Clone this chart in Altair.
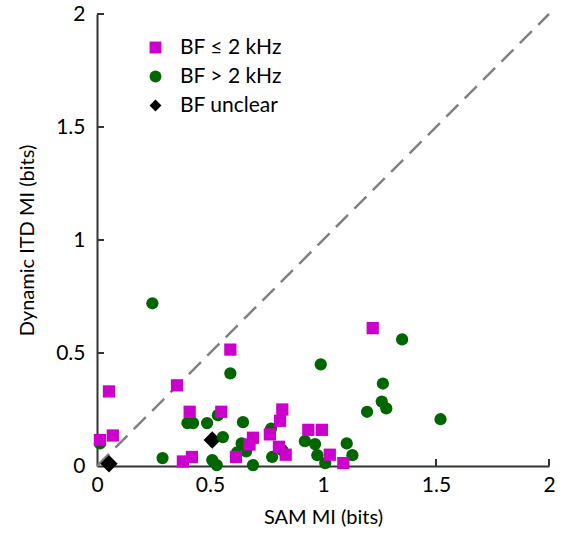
import altair as alt
import pandas as pd

groups = ["BF ≤ 2 kHz", "BF > 2 kHz", "BF unclear"]
colors = ["#cc00cc", "#006600", "#000000"]
shapes = ["square", "circle", "diamond"]
sizes = [150, 150, 300]

low_x = [0.013, 0.053, 0.07, 0.354, 0.41, 0.38, 0.42, 0.55, 0.59, 0.615, 0.69, 0.675,
         0.765, 0.81, 0.82, 0.805, 0.835, 0.935, 0.995, 1.03, 1.09, 1.22]
low_y = [0.115, 0.33, 0.135, 0.357, 0.24, 0.02, 0.04, 0.24, 0.515, 0.04, 0.125, 0.095,
         0.14, 0.20, 0.25, 0.085, 0.05, 0.16, 0.16, 0.05, 0.013, 0.61]

high_x = [0.013, 0.245, 0.29, 0.40, 0.425, 0.487, 0.535, 0.59, 0.557, 0.646, 0.64, 0.62,
          0.66, 0.51, 0.53, 0.69, 0.775, 0.77, 0.99, 1.35, 1.265, 1.26, 1.28, 1.195, 1.52,
          0.92, 0.965, 0.975, 1.01, 1.105, 1.13, 0.82]
high_y = [0.10, 0.72, 0.035, 0.19, 0.19, 0.19, 0.225, 0.41, 0.128, 0.194, 0.10, 0.06,
          0.065, 0.026, 0.004, 0.004, 0.04, 0.165, 0.45, 0.56, 0.365, 0.285, 0.255, 0.24,
          0.207, 0.11, 0.097, 0.048, 0.013, 0.10, 0.048, 0.07]

unc_x = [0.053, 0.51]
unc_y = [0.01, 0.115]

tick_vals = [0.5, 1.0, 1.5, 2.0]
axis_labels = [0, 0.5, 1, 1.5, 2]

rows = []
for x, y in zip(unc_x, unc_y):
    rows.append({"x": x, "y": y, "group": groups[2], "sz": sizes[2]})
for x, y in zip(high_x, high_y):
    rows.append({"x": x, "y": y, "group": groups[1], "sz": sizes[1]})
for x, y in zip(low_x, low_y):
    rows.append({"x": x, "y": y, "group": groups[0], "sz": sizes[0]})
df = pd.DataFrame(rows)
df["ord"] = range(len(df))

W, H = 452, 452
FONT = "Lato"

xs = alt.Scale(domain=[0, 2], nice=False)
ys = alt.Scale(domain=[0, 2], nice=False)

xaxis = alt.Axis(values=axis_labels, format=".1~f", ticks=False, grid=False, domainColor="#333333",
                 domainWidth=2, labelFontSize=21, labelFont=FONT, labelColor="black",
                 labelPadding=8, labelFlush=False, titleFontSize=20, titleFont=FONT,
                 titleFontWeight="normal", titleColor="black", titlePadding=12)
yaxis = alt.Axis(values=axis_labels, format=".1~f", ticks=False, grid=False, domainColor="#333333",
                 domainWidth=2, labelFontSize=21, labelFont=FONT, labelColor="black",
                 labelPadding=12, labelFlush=False, labelOverlap=False, titleFontSize=20,
                 titleFont=FONT, titleFontWeight="normal", titleColor="black", titlePadding=18)

diag = alt.Chart(pd.DataFrame({"x": [0, 2], "y": [0, 2]})).mark_line(
    color="#808080", strokeWidth=2.5, strokeDash=[17, 9]
).encode(
    x=alt.X("x:Q", scale=xs, axis=xaxis, title="SAM MI (bits)"),
    y=alt.Y("y:Q", scale=ys, axis=yaxis, title="Dynamic ITD MI (bits)"),
)

pts = alt.Chart(df).mark_point(filled=True, opacity=1, strokeWidth=0).encode(
    x=alt.X("x:Q", scale=xs),
    y=alt.Y("y:Q", scale=ys),
    color=alt.Color("group:N", scale=alt.Scale(domain=groups, range=colors), title=None),
    shape=alt.Shape("group:N", scale=alt.Scale(domain=groups, range=shapes), title=None),
    size=alt.Size("sz:Q", scale=None),
    order=alt.Order("ord:Q"),
)

tdf = pd.DataFrame({"t": tick_vals})
xticks = alt.Chart(tdf).mark_rule(color="#333333", strokeWidth=2).encode(
    x=alt.X("t:Q", scale=xs), y=alt.value(H), y2=alt.value(H - 7)
)
yticks = alt.Chart(tdf).mark_rule(color="#333333", strokeWidth=2).encode(
    y=alt.Y("t:Q", scale=ys), x=alt.value(0), x2=alt.value(7)
)

chart = alt.layer(diag, xticks, yticks, pts).properties(
    width=W, height=H,
    autosize=alt.AutoSizeParams(type="none"),
    padding={"left": 97, "top": 14, "right": 15, "bottom": 71},
).configure_view(stroke=None).configure_legend(
    orient="none", legendX=48, legendY=23, labelFontSize=21, labelFont=FONT,
    labelColor="black", rowPadding=7, labelOffset=14, symbolStrokeWidth=0, symbolSize=140
)

chart.save("out.html", embed_options={"renderer": "svg", "actions": False})
